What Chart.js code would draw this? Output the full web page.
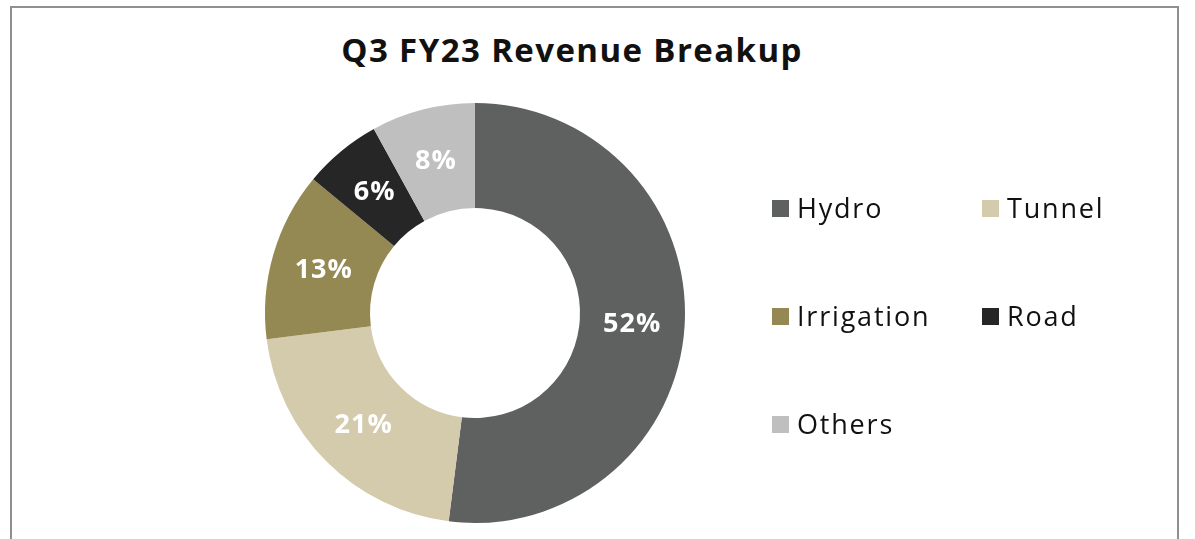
<!DOCTYPE html>
<html>
<head>
<meta charset="utf-8">
<script src="https://cdn.jsdelivr.net/npm/chart.js"></script>
<style>
  html, body { margin: 0; padding: 0; background: #fff; }
  body { width: 1195px; height: 539px; position: relative; overflow: hidden; font-family: "Open Sans", Lato, sans-serif; }
  #frame { position: absolute; left: 10px; top: 6px; width: 1169px; height: 600px; border: 2px solid #8f8f8f; box-sizing: border-box; }
  #title { position: absolute; left: 0; width: 1144px; top: 27px; text-align: center; font-size: 33px; letter-spacing: 1.4px; font-weight: 700; color: #111; }
  #chart-wrap { position: absolute; left: 0; top: 0; width: 1195px; height: 539px; }
  .legend-item { position: absolute; font-size: 27px; letter-spacing: 1.8px; color: #111; line-height: 30px; white-space: nowrap; }
  .legend-item span.box { display: inline-block; width: 17px; height: 17px; margin-right: 8px; vertical-align: 1px; }
</style>
</head>
<body>
<div id="frame"></div>
<div id="title">Q3 FY23 Revenue Breakup</div>
<div id="chart-wrap"><canvas id="pie"></canvas></div>
<div id="legend"></div>
<script>
  const labels = ['Hydro', 'Tunnel', 'Irrigation', 'Road', 'Others'];
  const shares = [52, 21, 13, 6, 8];
  const colors = ['#5f6160', '#d4cbad', '#958953', '#262626', '#bfbfbf'];

  // legend is laid out in two columns, like the original slide
  const legendCols = [772, 982];
  const legendRows = [193, 301, 409];

  const sliceLabels = {
    id: 'sliceLabels',
    afterDatasetsDraw(chart) {
      const ctx = chart.ctx;
      const meta = chart.getDatasetMeta(0);
      ctx.save();
      ctx.fillStyle = '#ffffff';
      ctx.font = 'bold 27px "Open Sans", Lato, sans-serif';
      ctx.letterSpacing = '1px';
      ctx.textAlign = 'center';
      ctx.textBaseline = 'middle';
      meta.data.forEach((arc, i) => {
        const p = arc.tooltipPosition();
        ctx.fillText(shares[i] + '%', p.x, p.y + 1);
      });
      ctx.restore();
    }
  };

  const canvas = document.getElementById('pie');
  canvas.width = 1195;
  canvas.height = 539;
  canvas.style.width = '1195px';
  canvas.style.height = '539px';

  new Chart(canvas, {
    type: 'doughnut',
    data: {
      labels,
      datasets: [{
        data: shares,
        backgroundColor: colors,
        borderWidth: 0
      }]
    },
    options: {
      responsive: false,
      animation: false,
      cutout: '50%',
      layout: { padding: { left: 265, right: 510, top: 103, bottom: 16 } },
      plugins: {
        legend: { display: false },
        tooltip: { enabled: false }
      }
    },
    plugins: [sliceLabels]
  });

  const legend = document.getElementById('legend');
  labels.forEach((name, i) => {
    const item = document.createElement('div');
    item.className = 'legend-item';
    item.style.left = legendCols[i % 2] + 'px';
    item.style.top = legendRows[Math.floor(i / 2)] + 'px';
    item.innerHTML = '<span class="box" style="background:' + colors[i] + '"></span>' + name;
    legend.appendChild(item);
  });
</script>
</body>
</html>
